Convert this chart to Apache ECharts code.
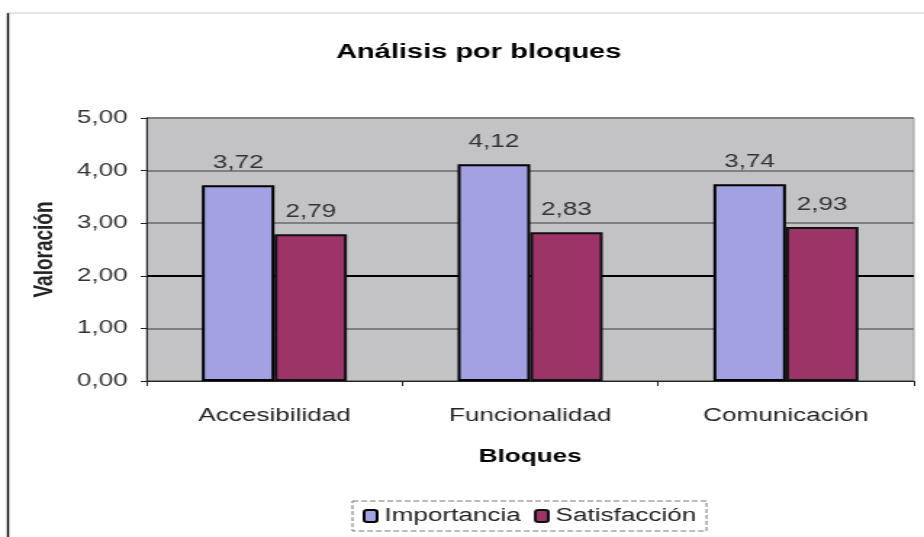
<!DOCTYPE html>
<html>
<head>
<meta charset="utf-8">
<script src="https://cdn.jsdelivr.net/npm/echarts@6/dist/echarts.min.js"></script>
<style>
  html, body { margin: 0; padding: 0; background: #fff; overflow: hidden; }
  /* el original esta estirado en horizontal, se imita con scaleX */
  #main { width: 637px; height: 537px; transform: scaleX(1.4505); transform-origin: 0 0; }
</style>
</head>
<body>
<div id="main"></div>
<script>
// datos del grafico
var bloques = ['Accesibilidad', 'Funcionalidad', 'Comunicación'];
var importancia = [3.72, 4.12, 3.74];
var satisfaccion = [2.79, 2.83, 2.93];

function coma(v, d) {
  return v.toFixed(d).replace('.', ',');
}

var myChart = echarts.init(document.getElementById('main'));
var fuente = 'Liberation Sans, Arial, sans-serif';

var option = {
  animation: false,
  textStyle: { fontFamily: fuente },
  title: {
    text: 'Análisis por bloques',
    left: 325,
    top: 37,
    textAlign: 'center',
    textStyle: { fontSize: 20, fontWeight: 'bold', color: '#000', fontFamily: fuente }
  },
  legend: {
    data: ['Importancia', 'Satisfacción'],
    left: 243,
    bottom: 6,
    itemWidth: 9,
    itemHeight: 12,
    itemGap: 9,
    padding: [6, 7],
    borderColor: '#777',
    borderWidth: 1,
    borderType: 'dashed',
    textStyle: { fontSize: 18, color: '#222', fontFamily: fuente }
  },
  grid: {
    left: 101,
    right: 7,
    top: 118,
    bottom: 156,
    show: true,
    backgroundColor: '#c3c3c6',
    borderColor: '#999',
    borderWidth: 1
  },
  xAxis: {
    type: 'category',
    data: bloques,
    name: 'Bloques',
    nameLocation: 'middle',
    nameGap: 67,
    nameTextStyle: { fontSize: 18, fontWeight: 'bold', color: '#000' },
    axisLine: { lineStyle: { color: '#222', width: 1 } },
    axisTick: { show: true, length: 5, lineStyle: { color: '#222' } },
    axisLabel: { fontSize: 18, color: '#222', margin: 26 }
  },
  yAxis: {
    type: 'value',
    min: 0,
    max: 5,
    interval: 1,
    name: 'Valoración',
    nameLocation: 'middle',
    nameGap: 61,
    nameTextStyle: { fontSize: 19, fontWeight: 'bold', color: '#222' },
    axisLine: { show: true, lineStyle: { color: '#222', width: 1 } },
    axisTick: { show: true, length: 4, lineStyle: { color: '#222' } },
    axisLabel: {
      fontSize: 18,
      color: '#333',
      margin: 13,
      formatter: function (v) { return coma(v, 2); }
    },
    splitLine: {
      show: true,
      lineStyle: { color: ['#808080', '#808080', '#000', '#808080', '#808080', '#808080'], width: 2 }
    }
  },
  series: [
    {
      name: 'Importancia',
      type: 'bar',
      data: importancia,
      barWidth: 50,
      barGap: '0%',
      itemStyle: { color: '#a2a2e2', borderColor: '#000', borderWidth: 2 },
      label: {
        show: true,
        position: 'top',
        distance: 13,
        fontSize: 18,
        color: '#333',
        formatter: function (p) { return coma(p.value, 2); }
      }
    },
    {
      name: 'Satisfacción',
      type: 'bar',
      data: satisfaccion,
      barWidth: 50,
      itemStyle: { color: '#9c3468', borderColor: '#111', borderWidth: 2 },
      label: {
        show: true,
        position: 'top',
        distance: 13,
        fontSize: 18,
        color: '#333',
        formatter: function (p) { return coma(p.value, 2); }
      }
    }
  ],
  graphic: [
    { type: 'line', shape: { x1: 5.5, y1: 13, x2: 5.5, y2: 537 }, style: { stroke: '#000', lineWidth: 1.4 } },
    { type: 'line', shape: { x1: 5.5, y1: 13, x2: 637, y2: 13 }, style: { stroke: '#999', lineWidth: 1, lineDash: [1, 1] } }
  ]
};

myChart.setOption(option);
</script>
</body>
</html>
